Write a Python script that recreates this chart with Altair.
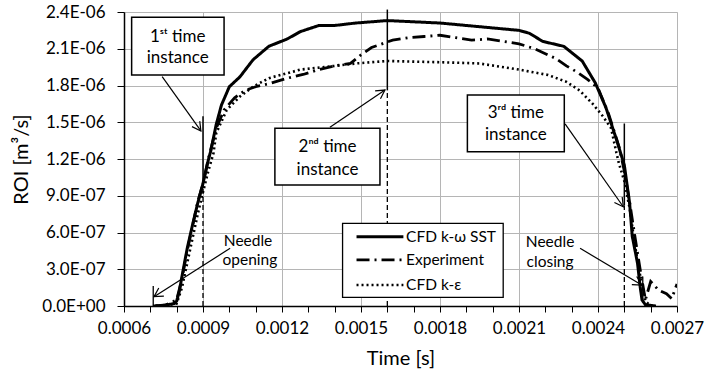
import math
import altair as alt
import pandas as pd

# ---------------- data (ROI in units of 1e-6 m^3/s) ----------------
sst_t = [0.00071, 0.00075, 0.00079, 0.0008, 0.00081, 0.00082, 0.00084, 0.00086, 0.00088, 0.0009,
         0.00092, 0.00093, 0.00095, 0.00097, 0.001, 0.00104, 0.00109, 0.00115, 0.00122, 0.00127,
         0.00134, 0.0014, 0.00148, 0.0016, 0.0017, 0.0018, 0.0019, 0.002, 0.0021, 0.00214,
         0.00219, 0.00227, 0.00234, 0.00239, 0.00243, 0.00247, 0.0025, 0.00252, 0.00253, 0.00255,
         0.00256, 0.002567, 0.00258, 0.00262]
sst_v = [0.0, 0.005, 0.02, 0.04, 0.12, 0.24, 0.47, 0.66, 0.84, 1.0,
         1.19, 1.27, 1.48, 1.64, 1.79, 1.87, 2.01, 2.12, 2.18, 2.24,
         2.29, 2.29, 2.31, 2.33, 2.32, 2.31, 2.29, 2.27, 2.25, 2.226,
         2.16, 2.12, 2.0, 1.82, 1.62, 1.36, 1.15, 0.84, 0.57, 0.35,
         0.16, 0.05, 0.01, 0.0]

exp_t = [0.00072, 0.00076, 0.0008, 0.00082, 0.00084, 0.00086, 0.00088, 0.0009, 0.00092, 0.00095,
         0.00098, 0.00102, 0.00106, 0.0011, 0.00116, 0.00122, 0.00128, 0.00134, 0.0014, 0.00146,
         0.0015, 0.00154, 0.00158, 0.00162, 0.00168, 0.00174, 0.0018, 0.00186, 0.00192, 0.00198,
         0.00204, 0.0021, 0.00216, 0.0022, 0.00224, 0.00228, 0.00232, 0.00236, 0.0024, 0.00244,
         0.00248, 0.0025, 0.00252, 0.00254, 0.00256, 0.00258, 0.0026, 0.00263, 0.00266, 0.00268,
         0.0027]
exp_v = [0.0, 0.01, 0.05, 0.22, 0.45, 0.65, 0.85, 1.0, 1.2, 1.45,
         1.6, 1.7, 1.76, 1.79, 1.82, 1.86, 1.89, 1.93, 1.96, 1.98,
         2.05, 2.11, 2.14, 2.17, 2.19, 2.2, 2.21, 2.19, 2.17, 2.18,
         2.16, 2.14, 2.1, 2.06, 2.02, 1.96, 1.91, 1.85, 1.78, 1.57,
         1.3, 1.1, 0.85, 0.57, 0.3, 0.05, 0.2, 0.13, 0.1, 0.06,
         0.18]

ke_t = [0.00072, 0.00076, 0.0008, 0.00082, 0.00084, 0.00086, 0.00088, 0.0009, 0.00092, 0.00094,
        0.00095, 0.00099, 0.00104, 0.00109, 0.00115, 0.00122, 0.00127, 0.00136, 0.00148, 0.0016,
        0.0018, 0.00195, 0.0021, 0.00221, 0.00228, 0.00233, 0.00238, 0.00242, 0.00245, 0.00247,
        0.00248, 0.0025, 0.00252, 0.00254, 0.00256, 0.00258, 0.0026]
ke_v = [0.0, 0.005, 0.02, 0.15, 0.35, 0.55, 0.75, 0.93, 1.1, 1.25,
        1.41, 1.6, 1.71, 1.79, 1.86, 1.9, 1.93, 1.95, 1.98, 2.0,
        1.99, 1.98, 1.93, 1.886, 1.83, 1.76, 1.65, 1.545, 1.45, 1.25,
        1.16, 1.02, 0.8, 0.5, 0.25, 0.04, 0.0]

series_names = ["CFD k-ω SST", "Experiment", "CFD k-ε"]

# time-instance markers: (time, value where solid part begins, top of solid part)
instance_t = [0.0009, 0.0016, 0.0025]
instance_mid = [1.0, 1.76, 0.82]
instance_top = [1.55, 2.42, 1.49]

x_ticks = [round(0.0006 + i * 0.0001, 4) for i in range(22)]
y_ticks = [round(i * 0.3, 1) for i in range(9)]

X_DOM = [0.0006, 0.0027]
Y_DOM = [0.0, 2.4]
W, H = 553, 294
FONT = "Lato"

rows = []
for name, ts, vs in [(series_names[0], sst_t, sst_v), (series_names[1], exp_t, exp_v), (series_names[2], ke_t, ke_v)]:
    for i, (t, v) in enumerate(zip(ts, vs)):
        rows.append({"series": name, "t": t, "v": v, "order": i})
df = pd.DataFrame(rows)

xs = alt.Scale(domain=X_DOM, nice=False, zero=False)
ys = alt.Scale(domain=Y_DOM, nice=False)
dash_scale = alt.Scale(domain=series_names, range=[[1, 0], [13, 5, 2, 5], [2, 3]])
width_scale = alt.Scale(domain=series_names, range=[3, 2.6, 2.2])

x_axis = alt.Axis(
    values=x_ticks, title="Time [s]",
    labelExpr="round(datum.value*10000) % 3 == 0 ? format(datum.value, '.4f') : ''",
    labelOverlap=False, labelFlush=False, labelFont=FONT, labelFontSize=17, labelColor="black", labelPadding=8,
    tickSize=6, tickColor="black", domainColor="black", domainWidth=1.5,
    grid=True, gridColor="#b5b5b5", gridWidth=1,
    gridOpacity={"condition": {"test": "round(datum.value*10000) % 3 == 0", "value": 1}, "value": 0},
    titleFont=FONT, titleFontSize=20, titleFontWeight="normal", titleColor="black", titlePadding=12,
)
y_axis = alt.Axis(
    values=y_ticks, title="ROI [m³/s]",
    labelExpr="datum.value == 0 ? '0.0E+00' : (datum.value < 1 ? format(datum.value*10, '.1f') + 'E-07' : format(datum.value, '.1f') + 'E-06')",
    labelOverlap=False, labelFlush=False, labelFont=FONT, labelFontSize=17, labelColor="black", labelPadding=12,
    tickSize=7, tickColor="black", domainColor="black", domainWidth=1.5,
    grid=True, gridColor="#b5b5b5", gridWidth=1,
    titleFont=FONT, titleFontSize=20, titleFontWeight="normal", titleColor="black", titlePadding=10,
)


def X(field):
    return alt.X(field, scale=xs, axis=x_axis)


def Y(field):
    return alt.Y(field, scale=ys, axis=y_axis)


lines = alt.Chart(df).mark_line(color="black", clip=True).encode(
    x=X("t:Q"),
    y=Y("v:Q"),
    detail="series:N",
    order="order:Q",
    strokeDash=alt.StrokeDash("series:N", scale=dash_scale, legend=None),
    strokeWidth=alt.StrokeWidth("series:N", scale=width_scale, legend=None),
)

inst_df = pd.DataFrame({"t": instance_t, "mid": instance_mid, "top": instance_top, "zero": [0.0] * 3})
inst_dashed = alt.Chart(inst_df).mark_rule(color="black", strokeWidth=1.3, strokeDash=[5, 3]).encode(
    x=X("t:Q"), y=Y("zero:Q"), y2="mid:Q")
inst_solid = alt.Chart(inst_df).mark_rule(color="black", strokeWidth=1.5, clip=False).encode(
    x=X("t:Q"), y=Y("mid:Q"), y2="top:Q")

# needle markers (short vertical strokes)
needle_df = pd.DataFrame({"t": [0.000711, 0.00257], "lo": [0.0, 0.035], "hi": [0.163, 0.24]})
needle_marks = alt.Chart(needle_df).mark_rule(color="black", strokeWidth=1.3).encode(
    x=X("t:Q"), y=Y("lo:Q"), y2="hi:Q")

# annotation arrows: start (t1, v1) -> tip (t2, v2)
arr_t1 = [0.000745, 0.001382, 0.002275, 0.001003, 0.002332]
arr_v1 = [1.872, 1.459, 1.486, 0.471, 0.471]
arr_t2 = [0.000892, 0.001591, 0.002496, 0.000714, 0.002566]
arr_v2 = [1.429, 1.763, 0.81, 0.076, 0.171]
ang = []
for a, b, c, d in zip(arr_t1, arr_v1, arr_t2, arr_v2):
    dx = (c - a) * W / (X_DOM[1] - X_DOM[0])
    dy = -(d - b) * H / (Y_DOM[1] - Y_DOM[0])
    ang.append(math.degrees(math.atan2(dy, dx)) % 360)
arr_df = pd.DataFrame({"t1": arr_t1, "v1": arr_v1, "t2": arr_t2, "v2": arr_v2, "ang": ang})
arrow_lines = alt.Chart(arr_df).mark_rule(color="black", strokeWidth=1.2).encode(
    x=X("t1:Q"), y=Y("v1:Q"), x2="t2:Q", y2="v2:Q")
arrow_heads = alt.Chart(arr_df).mark_point(
    shape="M -1 -0.55 L 0 0 L -1 0.55", filled=False, color="black", strokeWidth=1.2, size=300, opacity=1
).encode(x=X("t2:Q"), y=Y("v2:Q"), angle=alt.Angle("ang:Q", scale=None))

# annotation boxes
box_df = pd.DataFrame({
    "t1": [0.000629, 0.001173, 0.001904], "t2": [0.00098, 0.001572, 0.002272],
    "v1": [2.357, 1.451, 1.722], "v2": [1.886, 0.988, 1.26],
})
boxes = alt.Chart(box_df).mark_rect(fill="white", stroke="black", strokeWidth=1.5).encode(
    x=X("t1:Q"), x2="t2:Q", y=Y("v1:Q"), y2="v2:Q")

box_text_df = pd.DataFrame({
    "t": [0.000804, 0.000804, 0.001373, 0.001373, 0.002088, 0.002088],
    "v": [2.198, 2.022, 1.30, 1.11, 1.573, 1.396],
    "label": ["1ˢᵗ time", "instance", "2ⁿᵈ time", "instance", "3ʳᵈ time", "instance"],
})
box_texts = alt.Chart(box_text_df).mark_text(font=FONT, fontSize=17, color="black", align="center", baseline="middle").encode(
    x=X("t:Q"), y=Y("v:Q"), text="label:N")

needle_text_df = pd.DataFrame({
    "t": [0.001071, 0.001078, 0.002218, 0.002218],
    "v": [0.531, 0.376, 0.525, 0.362],
    "label": ["Needle", "opening", "Needle", "closing"],
})
needle_texts = alt.Chart(needle_text_df).mark_text(font=FONT, fontSize=15.5, color="black", align="center", baseline="middle").encode(
    x=X("t:Q"), y=Y("v:Q"), text="label:N")

# legend (drawn inside the plot)
leg_box = alt.Chart(pd.DataFrame({"t1": [0.00143], "t2": [0.00204], "v1": [0.675], "v2": [0.071]})).mark_rect(
    fill="white", stroke="black", strokeWidth=1.3).encode(
    x=X("t1:Q"), x2="t2:Q", y=Y("v1:Q"), y2="v2:Q")
leg_df = pd.DataFrame({"series": series_names, "v": [0.566, 0.376, 0.171],
                       "a": [0.001483] * 3, "b": [0.001661] * 3, "tt": [0.001671] * 3})
leg_lines = alt.Chart(leg_df).mark_rule(color="black").encode(
    x=X("a:Q"), x2="b:Q", y=Y("v:Q"),
    strokeDash=alt.StrokeDash("series:N", scale=dash_scale, legend=None),
    strokeWidth=alt.StrokeWidth("series:N", scale=width_scale, legend=None))
leg_text = alt.Chart(leg_df).mark_text(font=FONT, fontSize=15.5, color="black", align="left", baseline="middle").encode(
    x=X("tt:Q"), y=Y("v:Q"), text="series:N")

chart = alt.layer(
    lines, inst_dashed, inst_solid, needle_marks, arrow_lines, arrow_heads,
    boxes, box_texts, needle_texts, leg_box, leg_lines, leg_text,
).properties(
    width=W, height=H,
    autosize=alt.AutoSizeParams(type="none"),
    padding={"left": 124, "top": 12, "right": 30, "bottom": 68},
).configure_view(stroke="black", strokeWidth=1.5).configure(background="white")

chart.save("out.html", embed_options={"renderer": "svg", "actions": False})
